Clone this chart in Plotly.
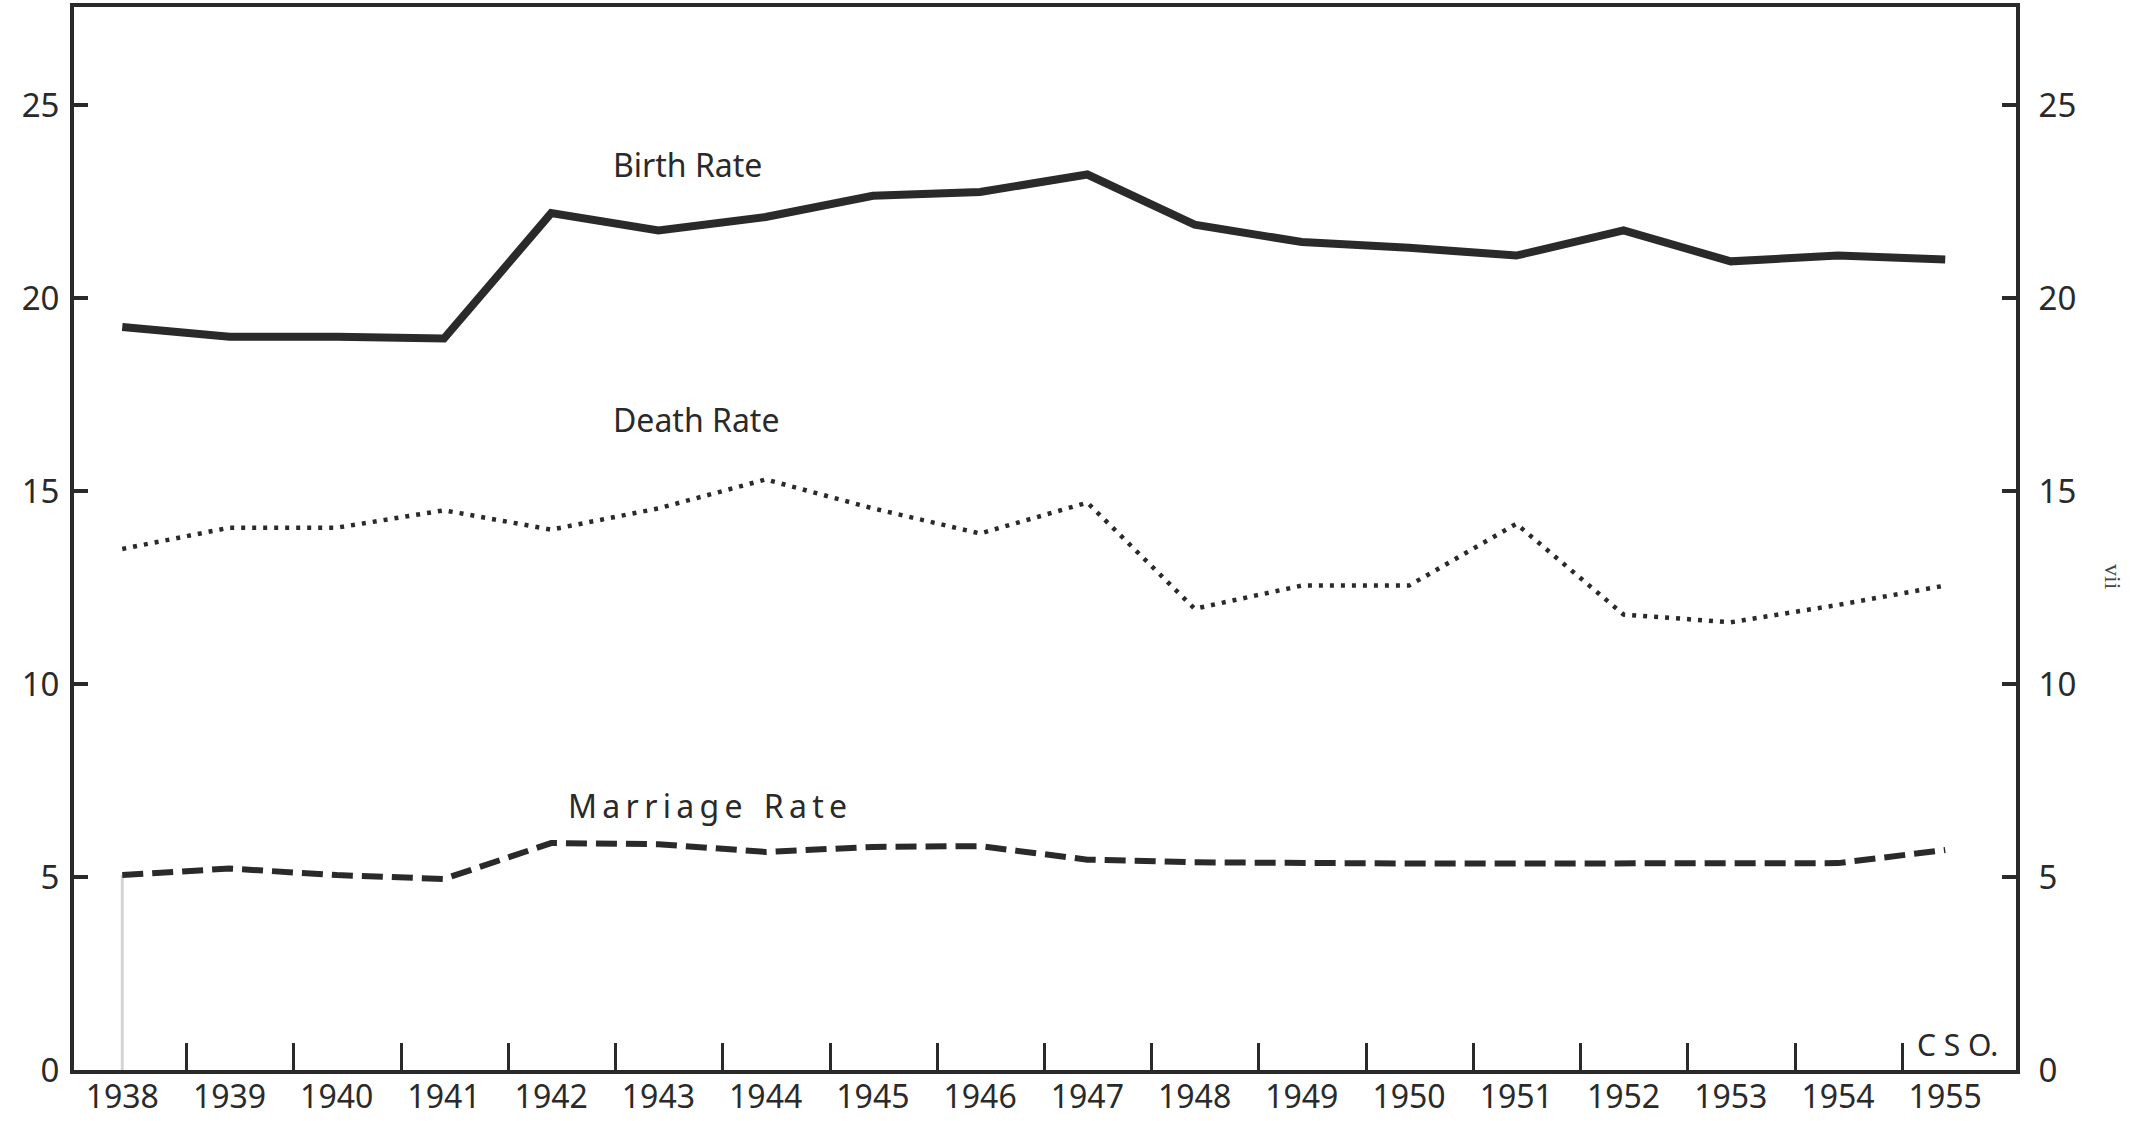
import plotly.graph_objects as go

# ---- data ----
years = [1938, 1939, 1940, 1941, 1942, 1943, 1944, 1945, 1946,
         1947, 1948, 1949, 1950, 1951, 1952, 1953, 1954, 1955]
year_labels = [str(y) for y in years]

birth_rate = [19.25, 19.0, 19.0, 18.95, 22.2, 21.75, 22.1, 22.65, 22.75,
              23.2, 21.9, 21.45, 21.3, 21.1, 21.75, 20.95, 21.1, 21.0]
death_rate = [13.5, 14.05, 14.05, 14.5, 14.0, 14.55, 15.3, 14.55, 13.9,
              14.7, 11.95, 12.55, 12.55, 14.15, 11.8, 11.6, 12.05, 12.55]
marriage_rate = [5.05, 5.22, 5.05, 4.95, 5.88, 5.85, 5.65, 5.78, 5.8,
                 5.45, 5.38, 5.35, 5.35, 5.35, 5.35, 5.37, 5.36, 5.7]

y_tick_values = [0, 5, 10, 15, 20, 25]
y_tick_labels = ["0", "5", "10", "15", "20", "25"]

# ---- style ----
INK = "#2a2a2a"
FONT = "Noto Sans"
X_RANGE = [1937.55, 1955.66]
Y_RANGE = [0, 27.54]
W, H = 2142, 1121
ML, MR, MT, MB = 74, 126, 7, 51
PW, PH = W - ML - MR, H - MT - MB

fig = go.Figure()

# faint drop line under the first marriage point (as in the scan)
fig.add_trace(go.Scatter(
    x=[years[0], years[0]], y=[0, marriage_rate[0]], mode="lines",
    line=dict(color="#d4d4d4", width=3), hoverinfo="skip", showlegend=False))

fig.add_trace(go.Scatter(
    x=years, y=birth_rate, mode="lines", name="Birth Rate",
    line=dict(color=INK, width=8)))
fig.add_trace(go.Scatter(
    x=years, y=death_rate, mode="lines", name="Death Rate",
    line=dict(color=INK, width=4.5, dash="4px,7px")))
fig.add_trace(go.Scatter(
    x=years, y=marriage_rate, mode="lines", name="Marriage Rate",
    line=dict(color=INK, width=6, dash="21px,9px")))

# helper trace to create the overlay axes (ticks only)
fig.add_trace(go.Scatter(
    x=[years[0]], y=[0], xaxis="x2", yaxis="y2", mode="markers",
    marker=dict(opacity=0), hoverinfo="skip", showlegend=False))

tickfont = dict(family=FONT, size=33, color=INK)

fig.update_layout(
    width=W, height=H, autosize=False,
    margin=dict(l=ML, r=MR, t=MT, b=MB, pad=0, autoexpand=False),
    paper_bgcolor="white", plot_bgcolor="white",
    showlegend=False,
    xaxis=dict(
        range=X_RANGE, tickvals=years, ticktext=year_labels, ticks="",
        showgrid=False, zeroline=False, showline=True, linecolor=INK,
        linewidth=4, mirror=True, ticklabelstandoff=-4, automargin=False,
        tickfont=dict(family=FONT, size=32, color=INK)),
    xaxis2=dict(
        range=X_RANGE, overlaying="x", side="bottom", anchor="y2",
        tickvals=[y + 0.6 for y in years[:-1]], ticks="inside",
        ticklen=27, tickwidth=3, tickcolor=INK, showticklabels=False,
        showgrid=False, zeroline=False, showline=False, automargin=False),
    yaxis=dict(
        range=Y_RANGE, tickvals=y_tick_values, ticktext=y_tick_labels,
        ticks="inside", ticklen=14, tickwidth=4, tickcolor=INK,
        showgrid=False, zeroline=False, showline=True, linecolor=INK,
        linewidth=4, tickfont=tickfont, ticklabelstandoff=4,
        automargin=False),
    yaxis2=dict(
        range=Y_RANGE, overlaying="y", side="right", anchor="x2",
        tickvals=y_tick_values, ticktext=y_tick_labels,
        ticks="inside", ticklen=14, tickwidth=4, tickcolor=INK,
        showgrid=False, zeroline=False, showline=True, linecolor=INK,
        linewidth=4, tickfont=tickfont, ticklabelstandoff=12,
        automargin=False),
)

label_font = dict(family=FONT, size=32, color=INK)
thin = "\u2009"
fig.add_annotation(x=1943.27, y=23.45, xref="x", yref="y", text="Birth Rate",
                   showarrow=False, font=label_font)
fig.add_annotation(x=1943.35, y=16.85, xref="x", yref="y", text="Death Rate",
                   showarrow=False, font=label_font)
fig.add_annotation(x=1943.46, y=6.85, xref="x", yref="y",
                   text=thin.join("Marriage") + thin * 4 + thin.join("Rate"),
                   showarrow=False, font=label_font)
fig.add_annotation(x=(2000 - ML) / PW, y=0.0, xref="paper", yref="paper",
                   xanchor="right", yanchor="bottom", yshift=3,
                   text="C S O.", showarrow=False,
                   font=dict(family=FONT, size=30, color=INK))
fig.add_annotation(x=(2113 - ML) / PW, y=(H - MB - 577) / PH,
                   xref="paper", yref="paper", xanchor="center",
                   yanchor="middle",
                   text="vii", textangle=90, showarrow=False,
                   font=dict(family="Liberation Serif", size=24, color="#444"))

fig.write_html(
    "out.html",
    config={"displayModeBar": False},
    post_script="document.body.style.margin='0';"
                "document.body.style.overflow='hidden';")
